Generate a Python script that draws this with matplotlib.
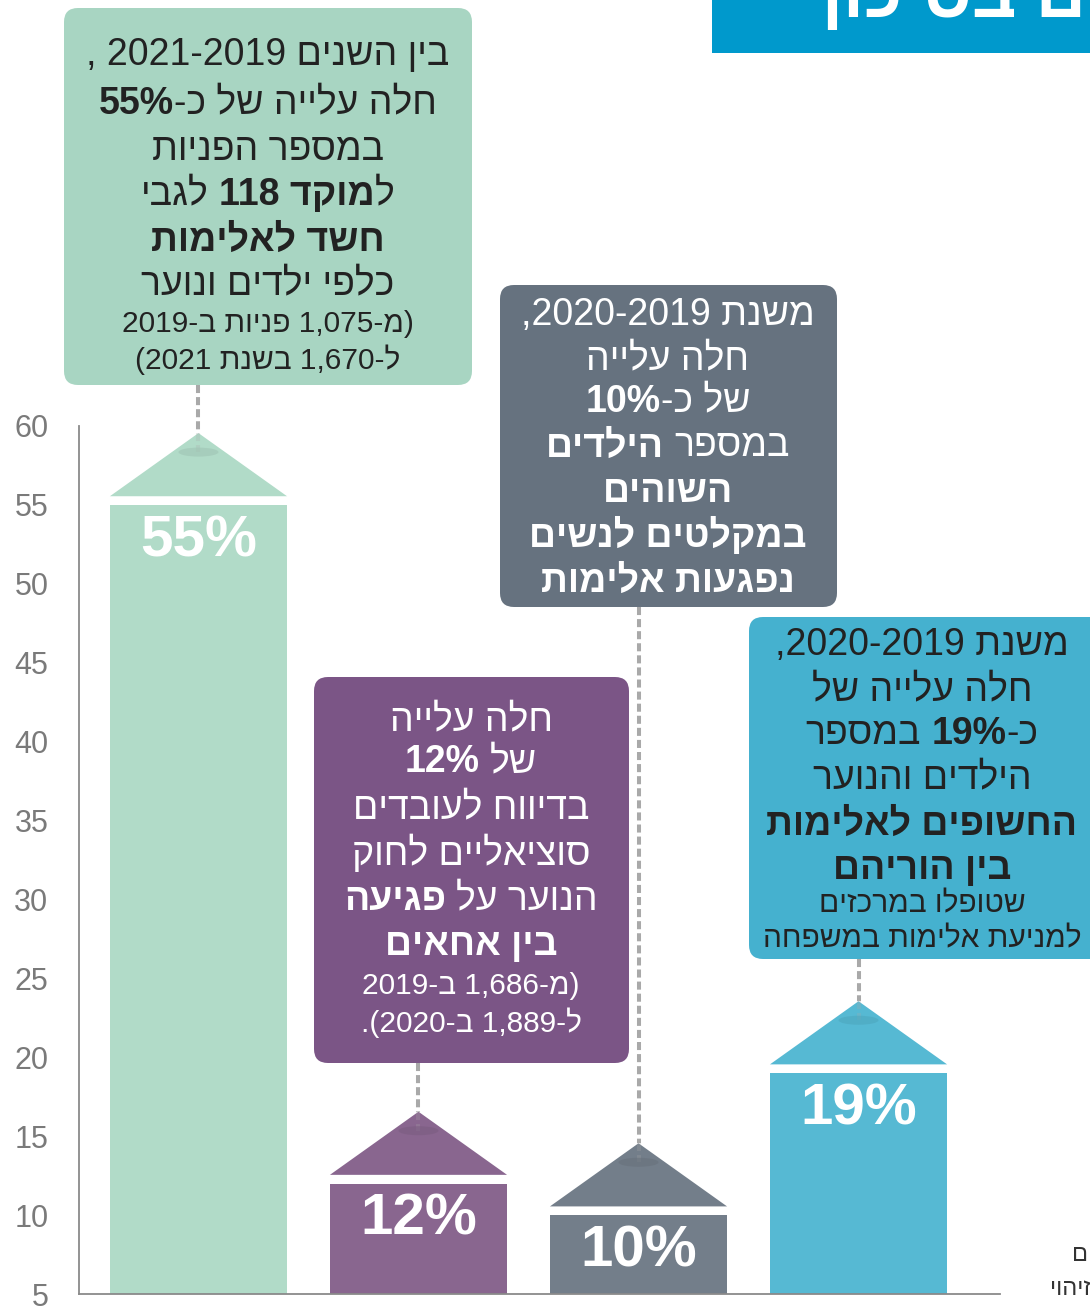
import re
import matplotlib
matplotlib.use("Agg")
import matplotlib.pyplot as plt
from matplotlib.patches import FancyBboxPatch, Ellipse, Rectangle
from matplotlib.colors import to_rgb

# --- data ---
values = [55, 12, 10, 19]
bar_labels = ["55%", "12%", "10%", "19%"]
yticks = [5, 10, 15, 20, 25, 30, 35, 40, 45, 50, 55, 60]

# note lines: list of (segments, size) ; segment = (logical text, bold)
note_55 = [
    ([("בין השנים 2021-2019 ,", False)], "L"),
    ([("חלה עלייה של כ-", False), ("55%", True)], "L"),
    ([("במספר הפניות", False)], "L"),
    ([("ל", False), ("מוקד 118", True), (" לגבי", False)], "L"),
    ([("חשד לאלימות", True)], "L"),
    ([("כלפי ילדים ונוער", False)], "L"),
    ([("(מ-1,075 פניות ב-2019", False)], "S"),
    ([("ל-1,670 בשנת 2021)", False)], "S"),
]
note_12 = [
    ([("חלה עלייה", False)], "L"),
    ([("של ", False), ("12%", True)], "L"),
    ([("בדיווח לעובדים", False)], "L"),
    ([("סוציאליים לחוק", False)], "L"),
    ([("הנוער על ", False), ("פגיעה", True)], "L"),
    ([("בין אחאים", True)], "L"),
    ([("(מ-1,686 ב-2019", False)], "S"),
    ([("ל-1,889 ב-2020).", False)], "S"),
]
note_10 = [
    ([("משנת 2020-2019,", False)], "L"),
    ([("חלה עלייה", False)], "L"),
    ([("של כ-", False), ("10%", True)], "L"),
    ([("במספר ", False), ("הילדים", True)], "L"),
    ([("השוהים", True)], "L"),
    ([("במקלטים לנשים", True)], "L"),
    ([("נפגעות אלימות", True)], "L"),
]
note_19 = [
    ([("משנת 2020-2019,", False)], "L"),
    ([("חלה עלייה של", False)], "L"),
    ([("כ-", False), ("19%", True), (" במספר", False)], "L"),
    ([("הילדים והנוער", False)], "L"),
    ([("החשופים לאלימות", True)], "L"),
    ([("בין הוריהם", True)], "L"),
    ([("שטופלו במרכזים", False)], "S"),
    ([("למניעת אלימות במשפחה", False)], "S"),
]
notes = [note_55, note_12, note_10, note_19]
title_text = "ילדים בסיכון"
edge_texts = ["ילדים", "זיהוי"]

# --- style ---
bar_colors = ["#b1dbc8", "#89668f", "#737e8a", "#56b9d3"]
box_colors = ["#a8d5c2", "#7b5586", "#66727f", "#45b1cf"]
text_colors = ["#222222", "white", "white", "#222222"]

W, H = 1090, 1307
plt.rcParams["font.family"] = ["Liberation Sans", "DejaVu Sans"]

LTR = re.compile(r"[0-9][0-9,.\-%]*[0-9%]|[0-9]|.")
MIRROR = {"(": ")", ")": "("}


def heb(s):
    # logical -> visual order (numbers stay left-to-right)
    toks = LTR.findall(s)
    return "".join(MIRROR.get(t, t) for t in reversed(toks))


fig = plt.figure(figsize=(W / 100, H / 100), dpi=100)
ax = fig.add_axes([79 / W, 13 / H, 921 / W, 868 / H])
ov = fig.add_axes([0, 0, 1, 1], zorder=5)
ov.set_xlim(0, W)
ov.set_ylim(H, 0)
ov.axis("off")
ov.patch.set_alpha(0)

# bars
x = list(range(len(values)))
bw = 0.805
ax.bar(x, [v - 5 for v in values], bottom=5, width=bw, color=bar_colors, zorder=2)
ax.set_xlim(-0.543, 3.643)
ax.set_ylim(5, 60)
ax.set_yticks(yticks)
ax.set_yticklabels([str(t) for t in yticks])
ax.tick_params(axis="y", length=0, pad=22, labelsize=22, labelcolor="#7a7a7a")
ax.set_xticks([])
for s in ["top", "right"]:
    ax.spines[s].set_visible(False)
for s in ["left", "bottom"]:
    ax.spines[s].set_color("#8a8a8a")
    ax.spines[s].set_linewidth(1.3)

gap, roof_h = 0.55, 4.0
for i, v in enumerate(values):
    ax.fill([i - bw / 2, i, i + bw / 2], [v + gap, v + gap + roof_h, v + gap],
            color=bar_colors[i], lw=0, zorder=2, clip_on=False)
    ax.text(i, v - 2.3, bar_labels[i], ha="center", va="center", color="white",
            fontsize=42, fontweight="bold", zorder=3)

# boxes (pixel layout)
box_rects = [(64, 8, 472, 385), (314, 677, 629, 1063), (500, 285, 837, 607), (749, 617, 1110, 959)]
text_cx = [268, 471, 668, 922]
line_ys = [
    [52, 100, 147, 191, 237, 281, 321, 358],
    [717, 759, 805, 851, 896, 941, 983, 1021],
    [311, 356, 398, 443, 489, 534, 578],
    [642, 687, 731, 775, 821, 865, 902, 937],
]
sizes = {"L": 27, "S": 21.5}

renderer = fig.canvas.get_renderer()


def put_line(cx, cy, segs, size, color):
    em = size * 100 / 72
    sp = 0.278 * em
    parts = []
    for txt, bold in reversed(segs):
        vis = heb(txt)
        lead = len(vis) - len(vis.lstrip(" "))
        trail = len(vis) - len(vis.rstrip(" "))
        t = ov.text(0, cy + 0.36 * em, vis.strip(" "), fontsize=size,
                    fontweight="bold" if bold else "normal", color=color,
                    ha="left", va="baseline", zorder=6)
        w = t.get_window_extent(renderer).width
        parts.append((t, lead * sp, w, trail * sp))
    total = sum(a + w + b for _, a, w, b in parts)
    xx = cx - total / 2
    for t, a, w, b in parts:
        xx += a
        t.set_x(xx)
        xx += w + b


for i in range(len(values)):
    x0, y0, x1, y1 = box_rects[i]
    ov.add_patch(FancyBboxPatch((x0, y0), x1 - x0, y1 - y0,
                                boxstyle="round,pad=0,rounding_size=14",
                                fc=box_colors[i], ec="none", zorder=4))
    for (segs, sz), ly in zip(notes[i], line_ys[i]):
        put_line(text_cx[i], ly, segs, sizes[sz], text_colors[i])

    # connector from box bottom to roof apex
    apex = ax.transData.transform((i, values[i] + gap + roof_h))
    bx = apex[0]
    ay_px = H - apex[1]
    box_bottom = y1 if y1 < ay_px else y0
    ov.plot([bx, bx], [box_bottom, ay_px], color="#a9a9a9", lw=2.9,
            dashes=(2, 1), zorder=3, solid_capstyle="butt")
    ov.plot([bx, bx], [ay_px, ay_px + 19], color="#a9a9a9", lw=2.9,
            dashes=(2, 1), alpha=0.25, zorder=3)
    dark = tuple(c * 0.9 for c in to_rgb(bar_colors[i]))
    ov.add_patch(Ellipse((bx, ay_px + 19), 40, 9, color=dark, alpha=0.6, lw=0, zorder=3))

# top-right banner
ov.add_patch(Rectangle((712, -5), 400, 58, color="#0099cc", lw=0, zorder=4))
ov.text(822, 17, heb(title_text), fontsize=50, fontweight="bold", color="white",
        ha="left", va="baseline", zorder=6)

# clipped text at the right edge
ov.text(1072, 1260, heb(edge_texts[0]), fontsize=17, color="#333333", ha="left", va="baseline")
ov.text(1050, 1295, heb(edge_texts[1]), fontsize=17, color="#333333", ha="left", va="baseline")

fig.savefig("out.png", dpi=100)
